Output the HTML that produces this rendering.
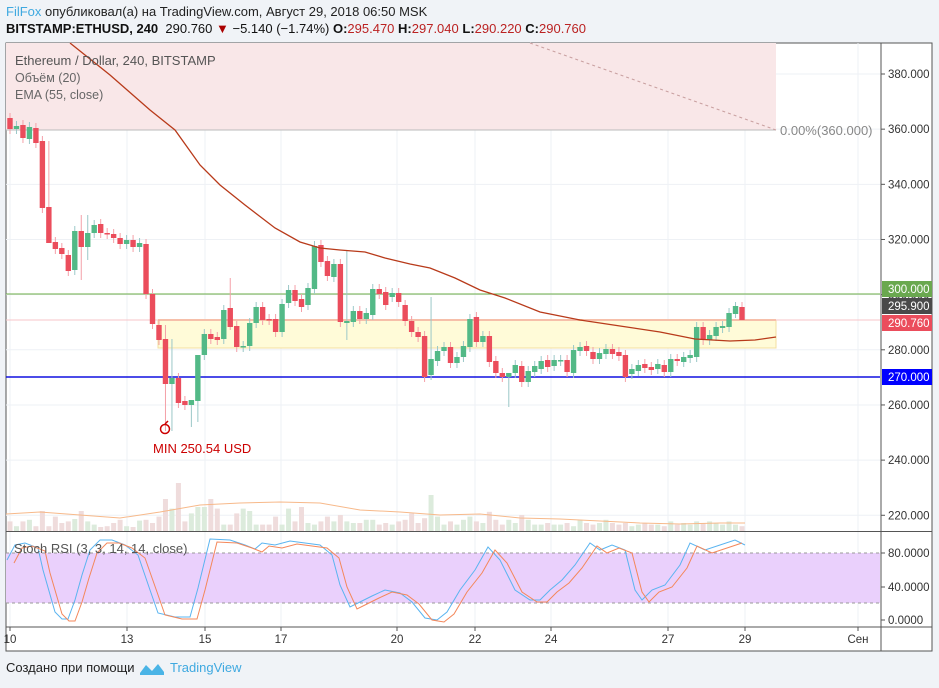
<!DOCTYPE html><html><head><meta charset="utf-8"><style>
body{margin:0;width:939px;height:688px;background:#f0f3f7;font-family:"Liberation Sans",sans-serif;overflow:hidden;position:relative}
.t{position:absolute;white-space:nowrap}
</style></head><body>
<div class="t" style="left:6px;top:4px;font-size:13px;color:#222"><span style="color:#3fa9e0">FilFox</span> опубликовал(а) на TradingView.com, Август 29, 2018 06:50 MSK</div>
<div class="t" style="left:6px;top:21px;font-size:13px;color:#111"><b>BITSTAMP:ETHUSD, 240</b>&nbsp; 290.760 <span style="color:#a00">▼</span> −5.140 (−1.74%) <b>O:</b><span style="color:#b22">295.470</span> <b>H:</b><span style="color:#b22">297.040</span> <b>L:</b><span style="color:#b22">290.220</span> <b>C:</b><span style="color:#b22">290.760</span></div>
<svg id="s" width="939" height="688" style="position:absolute;left:0;top:0" font-family="Liberation Sans, sans-serif"></svg>
<div class="t" style="left:6px;top:660px;font-size:13px;color:#222">Создано при помощи</div>
<svg style="position:absolute;left:139px;top:660px" width="26" height="16"><path d="M1 13 L7 5 L13 11 L19 4 L25 12 L25 15 L1 15Z" fill="#4ab4e6"/></svg>
<div class="t" style="left:170px;top:660px;font-size:13px;color:#3fa9e0">TradingView</div>
<script>
const s=document.getElementById('s');let h='';
h+='<rect x="6" y="43" width="926" height="608" fill="#fff" stroke="#555"/>';
const PY=p=>74+(380-p)*2.758;
for(let p=220;p<=380;p+=20){const y=PY(p);h+=`<line x1="6" x2="880" y1="${y}" y2="${y}" stroke="#eef1f5"/>`;}
const xs=[10,127,205,281,397,475,551,668,745,858];
xs.forEach(x=>h+=`<line x1="${x}" x2="${x}" y1="43" y2="627" stroke="#eef1f5"/>`);
h+='<rect x="6" y="43" width="770" height="87" fill="#f9e7e8"/><line x1="6" x2="776" y1="130" y2="130" stroke="#bbb"/>';
h+='<line x1="530" y1="43" x2="776" y2="130" stroke="#c9a0a0" stroke-dasharray="3,3"/>';
h+='<text x="780" y="135" font-size="13" fill="#888">0.00%(360.000)</text>';
h+='<rect x="158" y="320" width="618" height="28" fill="#fffbd8" stroke="#f3dfa0"/><line x1="158" x2="776" y1="320" y2="320" stroke="#f5b98a" stroke-width="2"/>';
h+='<line x1="6" x2="880" y1="294" y2="294" stroke="#6aac45"/><line x1="6" x2="880" y1="320" y2="320" stroke="#f7c5c8"/><line x1="6" x2="880" y1="377" y2="377" stroke="#1010e0" stroke-width="1.5"/>';
let vh=[12,6,12,14,6,25,6,18,10,12,15,25,12,8,5,6,10,14,6,5,13,14,10,18,40,28,60,12,22,30,30,40,28,8,8,22,28,25,8,8,8,18,8,28,12,30,10,8,12,18,12,20,12,10,10,14,14,8,10,8,12,14,22,10,16,45,18,8,12,8,14,18,12,10,24,14,8,14,10,20,14,8,8,10,8,8,10,6,14,10,8,10,14,10,8,10,6,8,10,8,8,6,12,8,10,8,12,10,12,10,8,12,8,6];
const C=[[118,129,'r'],[126,129,'g'],[125,138,'r'],[127,139,'g'],[128,143,'r'],[141,208,'r'],[207,243,'r'],[242,249,'r'],[248,254,'r'],[255,271,'r'],[231,270,'g'],[231,247,'r'],[233,247,'g'],[225,233,'g'],[224,233,'r'],[233,234,'r'],[234,238,'r'],[238,244,'r'],[240,244,'g'],[240,247,'r'],[243,247,'g'],[244,294,'r'],[294,324,'r'],[325,340,'r'],[339,384,'r'],[378,384,'g'],[378,403,'r'],[401,405,'r'],[400,405,'g'],[355,401,'g'],[334,355,'g'],[334,339,'r'],[337,340,'r'],[310,339,'g'],[308,327,'r'],[326,347,'r'],[346,347,'g'],[323,346,'g'],[307,323,'g'],[307,320,'r'],[319,320,'r'],[319,332,'r'],[304,332,'g'],[290,303,'g'],[290,301,'r'],[299,307,'r'],[288,305,'g'],[246,289,'g'],[245,262,'r'],[261,276,'r'],[264,277,'g'],[264,322,'r'],[321,323,'g'],[311,322,'g'],[311,319,'r'],[313,319,'g'],[289,315,'g'],[289,294,'r'],[292,305,'r'],[293,297,'g'],
[293,302,'r'],[305,321,'r'],[321,332,'r'],[332,337,'r'],[336,377,'r'],[359,375,'g'],[351,361,'g'],[347,351,'g'],[347,363,'r'],[357,363,'g'],[346,357,'g'],[319,347,'g'],[317,342,'r'],[336,342,'g'],[336,362,'r'],[361,373,'r'],[373,377,'r'],[373,377,'g'],[365,373,'g'],[366,382,'r'],[371,382,'g'],[366,372,'g'],[361,369,'g'],[360,367,'r'],[360,366,'g'],[360,361,'g'],[360,372,'r'],[350,373,'g'],[347,351,'g'],[346,351,'r'],[352,359,'r'],[353,359,'g'],[349,354,'g'],[349,354,'r'],[352,356,'r'],[355,377,'r'],[369,374,'g'],[365,371,'g'],[364,368,'r'],[367,370,'r'],[364,369,'g'],[365,372,'r'],[359,372,'g'],[359,361,'r'],[357,362,'g'],[355,358,'g'],[327,357,'g'],[327,340,'r'],[335,340,'g'],[327,336,'g'],[326,328,'g'],[313,327,'g'],[306,314,'g'],[307,320,'r']];
const W={6:[141,223],24:[325,431],25:[339,431],28:[401,427],29:[400,422],11:[215,280],12:[215,260],34:[278,330],52:[250,340],65:[297,380],77:[373,407],113:[302,320],112:[302,318]};
const step=(742-10)/(C.length-1);
C.forEach((c,i)=>{const x=10+i*step,v=vh[i%vh.length]*0.8;h+=`<rect x="${x-2.5}" y="${531-v}" width="5" height="${v}" fill="${c[2]=='g'?'#dcebdc':'#efdcdc'}"/>`;});
h+='<polyline fill="none" stroke="#f7b98a" points="6,514 40,512 80,515 120,518 160,512 200,505 240,503 280,502 320,503 360,510 400,512 440,515 480,514 520,518 560,519 600,521 640,523 680,524 720,523 745,523"/>';
C.forEach((c,i)=>{const x=10+i*step,col=c[2]=='g'?'#53b987':'#eb4d5c',wc=c[2]=='g'?'#9bc8c8':'#f4a0a8';let t=Math.min(c[0],c[1]),b=Math.max(c[0],c[1]);let w=W[i]||[t-5,b+5];h+=`<line x1="${x}" x2="${x}" y1="${w[0]}" y2="${w[1]}" stroke="${wc}"/><rect x="${x-2.7}" y="${t}" width="5.4" height="${Math.max(b-t,1.5)}" fill="${col}"/>`;});
h+='<polyline fill="none" stroke="#b83a1a" stroke-width="1.3" points="70,43 110,75 150,110 175,130 200,165 220,185 245,205 275,228 300,242 320,248 340,250 365,252 385,258 410,264 430,268 455,278 480,290 505,298 540,312 580,320 620,326 660,332 695,339 730,341 755,340 776,337"/>';
h+='<circle cx="165" cy="429" r="4.5" fill="none" stroke="#c00" stroke-width="1.5"/><path d="M165 424 l3 -3" stroke="#c00" stroke-width="1.5"/><text x="153" y="453" font-size="13" fill="#c00">MIN 250.54 USD</text>';
h+='<text x="15" y="65" font-size="13" fill="#555">Ethereum / Dollar, 240, BITSTAMP</text><text x="15" y="82" font-size="12.5" fill="#666">Объём (20)</text><text x="15" y="99" font-size="12.5" fill="#666">EMA (55, close)</text>';
h+='<line x1="6" x2="932" y1="531.5" y2="531.5" stroke="#555"/>';
h+='<rect x="6" y="553" width="874" height="50" fill="#ead0fc"/><line x1="6" x2="880" y1="553" y2="553" stroke="#999" stroke-dasharray="3,3"/><line x1="6" x2="880" y1="603" y2="603" stroke="#999" stroke-dasharray="3,3"/>';
const B=[[7,560],[15,545],[25,543],[38,548],[43,570],[55,612],[62,619],[68,619],[75,600],[82,575],[90,550],[100,540],[112,540],[125,545],[138,555],[150,590],[158,613],[175,617],[190,617],[198,588],[210,539],[230,540],[245,545],[255,549],[262,543],[275,545],[290,541],[305,543],[320,545],[332,555],[340,585],[350,607],[360,602],[372,596],[385,590],[400,593],[412,602],[425,618],[437,620],[447,612],[460,590],[475,570],[488,547],[500,560],[515,590],[530,600],[540,600],[550,590],[562,580],[575,565],[590,543],[600,550],[612,545],[625,550],[635,590],[642,600],[652,590],[665,585],[680,565],[690,543],[705,550],[720,545],[735,540],[745,545]];
h+=`<polyline fill="none" stroke="#5ab4f0" points="${B.map(p=>p.join(',')).join(' ')}"/>`;
h+=`<polyline fill="none" stroke="#f4875a" points="${B.map(p=>(p[0]+7)+','+(p[1]+(p[1]>580?2:3))).filter((_,i)=>i<B.length-1).join(' ')}"/>`;
h+='<text x="14" y="553" font-size="13" fill="#555">Stoch RSI (3, 3, 14, 14, close)</text>';
h+='<line x1="6" x2="932" y1="627" y2="627" stroke="#555"/><line x1="881" x2="881" y1="43" y2="651" stroke="#555"/>';
for(let p=220;p<=380;p+=20){const y=PY(p);h+=`<line x1="881" x2="885" y1="${y}" y2="${y}" stroke="#555"/><text x="888" y="${y+4}" font-size="11.5" fill="#333">${p}.000</text>`;}
[[80,553],[40,587],[0,620]].forEach(a=>h+=`<line x1="881" x2="885" y1="${a[1]}" y2="${a[1]}" stroke="#555"/><text x="888" y="${a[1]+4}" font-size="11.5" fill="#333">${a[0]?a[0]+'.0000':'0.0000'}</text>`);
const L=[[289,'#6aa84f','300.000'],[306,'#4a4a4a','295.900'],[323,'#eb4d5c','290.760'],[377,'#0000ff','270.000']];
L.forEach(a=>{h+='<rect x="882" y="'+(a[0]-8)+'" width="50" height="16" fill="'+a[1]+'"/><text x="888" y="'+(a[0]+4)+'" font-size="11.5" fill="#fff">'+a[2]+'</text>';});
[['10',10],['13',127],['15',205],['17',281],['20',397],['22',475],['24',551],['27',668],['29',745],['Сен',858]].forEach(a=>h+=`<line x1="${a[1]}" x2="${a[1]}" y1="627" y2="631" stroke="#555"/><text x="${a[1]}" y="643" font-size="11.5" fill="#333" text-anchor="middle">${a[0]}</text>`);
s.innerHTML=h;
</script></body></html>
